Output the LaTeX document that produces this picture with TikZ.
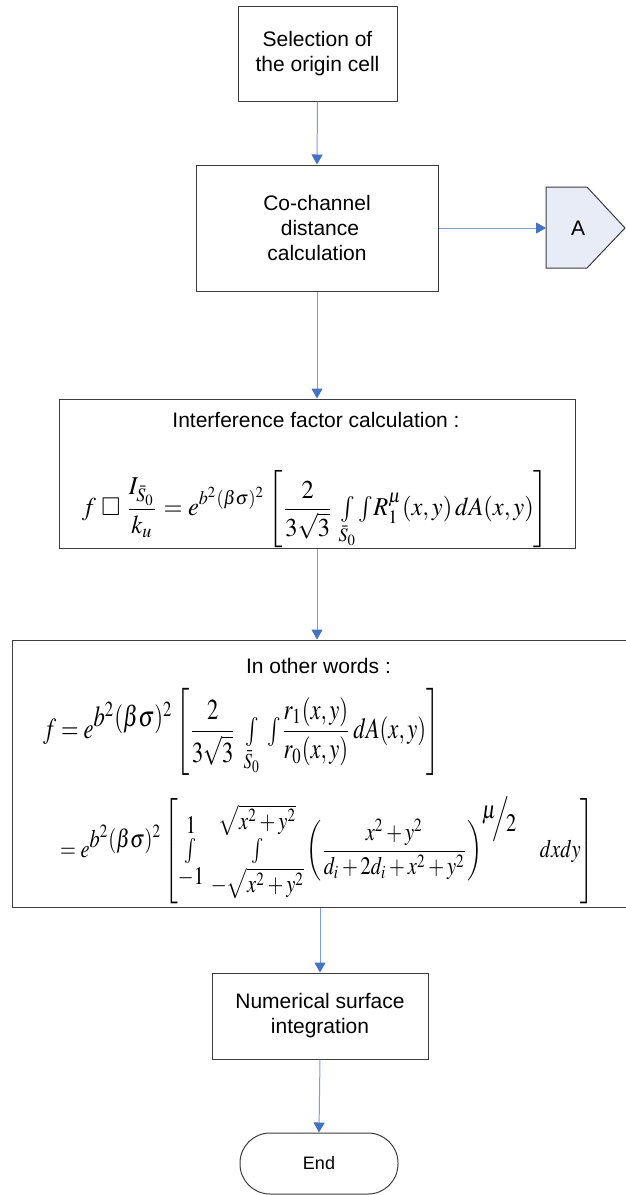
\documentclass[tikz,border=0pt]{standalone}
\usepackage{amssymb}
\usepackage{mathptmx}
\usepackage[no-math]{fontspec}
\setmainfont{Liberation Sans}
\usepackage{graphicx}
\usetikzlibrary{arrows.meta}
\definecolor{headblue}{RGB}{68,114,196}
\definecolor{lineblue}{RGB}{122,158,214}
\definecolor{boxline}{RGB}{60,60,60}
\definecolor{afill}{RGB}{231,236,247}
\tikzset{
  stepbox/.style={draw=boxline, line width=1pt, fill=white, align=center, inner sep=0pt,
    font=\fontsize{21}{25}\selectfont},
  flowarrow/.style={draw=lineblue, line width=1pt,
    -{Triangle[length=10pt,width=11pt,color=headblue,fill=headblue]}},
  mathnode/.style={inner sep=0pt, anchor=west},
  labeltext/.style={inner sep=0pt, font=\fontsize{21}{25}\selectfont}
}
\newcommand{\tint}{\mathop{{\textstyle\int}}}
\begin{document}
\begin{tikzpicture}[x=1pt,y=-1pt]
\useasboundingbox (0,0) rectangle (625,1195);

% boxes
\node[stepbox, minimum width=159pt, minimum height=95pt] (b1) at (317.5,53.5)
  {Selection of\\the origin cell};
\node[stepbox, minimum width=242pt, minimum height=126pt] (b2) at (317,228)
  {Co-channel\\\hspace*{6pt}distance\\calculation};
\node[stepbox, minimum width=516pt, minimum height=149pt] (b3) at (317,473.5) {};
\node[stepbox, minimum width=615pt, minimum height=267pt] (b4) at (319.5,773.5) {};
\node[stepbox, minimum width=216pt, minimum height=86pt] (b5) at (320,1016)
  {Numerical surface\\integration};
\node[draw=boxline, line width=1pt, fill=white, minimum width=158pt, minimum height=61pt,
  rounded corners=30pt, inner sep=0pt, font=\fontsize{18}{22}\selectfont] (e) at (319,1163.5) {End};

% off-page connector A
\coordinate (Anw) at (546,187);
\coordinate (Ane) at (587,187);
\coordinate (Atip) at (625,228);
\coordinate (Ase) at (587,268);
\coordinate (Asw) at (546,268);
\coordinate (Aw) at (546,228);
\draw[draw=boxline, line width=1pt, fill=afill] (Anw) -- (Ane) -- (Atip) -- (Ase) -- (Asw) -- cycle;
\node[labeltext] (A) at (578,228) {A};

% texts in box 3
\node[labeltext, anchor=base] (t3) at (316,427) {Interference factor calculation :};
\node[inner sep=0pt] (f1) at (315,509.5) {\resizebox*{466pt}{78pt}{$\displaystyle
  f\;\square\;\frac{I_{\bar{S}_0}}{k_u}=e^{b^2(\beta\sigma)^2}\left[\frac{2}{3\sqrt{3}}\,
  \tint\limits_{\bar{S}_0}{\textstyle\int} R_1^{\mu}(x,y)\,dA(x,y)\right]$}};

% texts in box 4
\node[labeltext, anchor=base] (t4) at (318.5,673.5) {In other words :};
\node[mathnode] (f2) at (43,732) {\resizebox*{396pt}{88pt}{$\displaystyle
  f=e^{\textstyle b^2(\beta\sigma)^2}\left[\frac{2}{3\sqrt{3}}\;\tint\limits_{\bar{S}_0}\;
  {\textstyle\int}\frac{r_1(x,y)}{r_0(x,y)}\,dA(x,y)\right]$}};
\node[mathnode] (f3) at (60,850.5) {\resizebox*{534pt}{107pt}{$\displaystyle
  =e^{\textstyle b^2(\beta\sigma)^2}\left[\tint\limits_{\textstyle -1}^{\textstyle 1}\;
  \tint\limits_{\textstyle -\sqrt{x^2+y^2}}^{\textstyle\sqrt{x^2+y^2}}
  \left(\frac{x^2+y^2}{d_i+2d_i+x^2+y^2}\right)^{\raisebox{3pt}{$\textstyle\mu$}\!\!\Big/\!\!\raisebox{-2pt}{$\textstyle 2$}}
  \quad dxdy\right]$}};

% connectors
\draw[flowarrow] (b1.south) -- (b2.north);
\draw[flowarrow] (b2.east) -- (Aw);
\draw[flowarrow] (b2.south) -- (b3.north);
\draw[flowarrow] (b3.south) -- (b3.south |- b4.north);
\draw[flowarrow] (b5.north |- b4.south) -- (b5.north);
\draw[flowarrow] (b5.south) -- (e.north);
\end{tikzpicture}
\end{document}
